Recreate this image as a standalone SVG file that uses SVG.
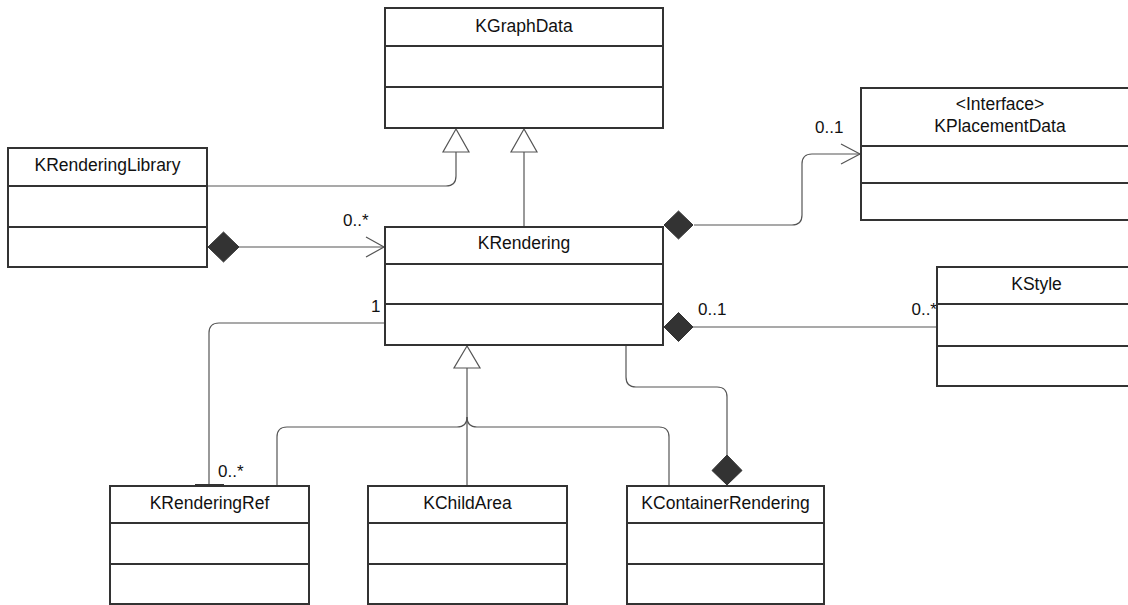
<svg xmlns="http://www.w3.org/2000/svg" width="1128" height="605" viewBox="0 0 1128 605">
<style>
.box{fill:#fff;stroke:#333;stroke-width:2}
.sep{stroke:#333;stroke-width:2}
.t{font-family:"Liberation Sans",Arial,sans-serif;font-size:17.5px;fill:#111;text-anchor:middle}
.lbl{font-family:"Liberation Sans",Arial,sans-serif;font-size:17px;fill:#111}
.c{fill:none;stroke:#555;stroke-width:1.2}
.dia{fill:#333;stroke:#333;stroke-width:1}
.tri{fill:#fff;stroke:#555;stroke-width:1.2}
</style>
<rect width="1128" height="605" fill="#fff"/>
<g id="connectors">
  <path class="c" d="M207,186 H446 Q456,186 456,176 V152"/>
  <polygon class="tri" points="456,129 443,152 469,152"/>
  <path class="c" d="M524,227 V152"/>
  <polygon class="tri" points="524,129 511,152 537,152"/>
  <path class="c" d="M239,247 H384"/>
  <polyline class="c" points="366,237 384,247 366,257"/>
  <polygon class="dia" points="208,247 223.5,232 239,247 223.5,262"/>
  <path class="c" d="M694,225 H792 Q802,225 802,215 V164 Q802,154 812,154 H860"/>
  <polyline class="c" points="841,144 860,154 841,164"/>
  <polygon class="dia" points="664,225 678.5,211 693,225 678.5,239"/>
  <path class="c" d="M693,327 H937"/>
  <polygon class="dia" points="664,327 678.5,312.5 693,327 678.5,341.5"/>
  <path class="c" d="M385,323 H219 Q209,323 209,333 V485"/>
  <path d="M195,485 H224" stroke="#333" stroke-width="2"/>
  <polygon class="tri" points="467,346 454,368 480,368"/>
  <path class="c" d="M467,368 V486"/>
  <path class="c" d="M467,417 Q467,427 457,427 H287 Q277,427 277,437 V486"/>
  <path class="c" d="M467,417 Q467,427 477,427 H659 Q669,427 669,437 V486"/>
  <path class="c" d="M626,345 V377 Q626,387 636,387 H717 Q727,387 727,397 V455"/>
  <polygon class="dia" points="727,455 742,470.5 727,485 712,470.5"/>
  <text class="lbl" x="343" y="226">0..*</text>
  <text class="lbl" x="815" y="133">0..1</text>
  <text class="lbl" x="698" y="315">0..1</text>
  <text class="lbl" x="937" y="315" text-anchor="end">0..*</text>
  <text class="lbl" x="371" y="312">1</text>
  <text class="lbl" x="218" y="477">0..*</text>
</g>
<g id="KGraphData">
  <rect class="box" x="385" y="8" width="278" height="120"/>
  <line class="sep" x1="385" y1="46" x2="663" y2="46"/>
  <line class="sep" x1="385" y1="87" x2="663" y2="87"/>
  <text class="t" x="524" y="32">KGraphData</text>
</g>
<g id="KRenderingLibrary">
  <rect class="box" x="8" y="148" width="199" height="119"/>
  <line class="sep" x1="8" y1="186" x2="207" y2="186"/>
  <line class="sep" x1="8" y1="227" x2="207" y2="227"/>
  <text class="t" x="107.5" y="171">KRenderingLibrary</text>
</g>
<g id="KPlacementData">
  <rect class="box" x="861" y="88" width="278" height="132"/>
  <line class="sep" x1="861" y1="146" x2="1139" y2="146"/>
  <line class="sep" x1="861" y1="183" x2="1139" y2="183"/>
  <text class="t" x="1000" y="110">&lt;Interface&gt;</text>
  <text class="t" x="1000" y="132">KPlacementData</text>
</g>
<g id="KRendering">
  <rect class="box" x="385" y="227" width="278" height="118"/>
  <line class="sep" x1="385" y1="264" x2="663" y2="264"/>
  <line class="sep" x1="385" y1="304" x2="663" y2="304"/>
  <text class="t" x="524" y="249">KRendering</text>
</g>
<g id="KStyle">
  <rect class="box" x="937" y="267" width="199" height="119"/>
  <line class="sep" x1="937" y1="304" x2="1136" y2="304"/>
  <line class="sep" x1="937" y1="346" x2="1136" y2="346"/>
  <text class="t" x="1036.5" y="290">KStyle</text>
</g>
<g id="KRenderingRef">
  <rect class="box" x="110" y="486" width="199" height="118"/>
  <line class="sep" x1="110" y1="523" x2="309" y2="523"/>
  <line class="sep" x1="110" y1="564" x2="309" y2="564"/>
  <text class="t" x="209.5" y="509">KRenderingRef</text>
</g>
<g id="KChildArea">
  <rect class="box" x="368" y="486" width="199" height="118"/>
  <line class="sep" x1="368" y1="523" x2="567" y2="523"/>
  <line class="sep" x1="368" y1="564" x2="567" y2="564"/>
  <text class="t" x="467.5" y="509">KChildArea</text>
</g>
<g id="KContainerRendering">
  <rect class="box" x="627" y="486" width="197" height="118"/>
  <line class="sep" x1="627" y1="523" x2="824" y2="523"/>
  <line class="sep" x1="627" y1="564" x2="824" y2="564"/>
  <text class="t" x="725.5" y="509">KContainerRendering</text>
</g>
</svg>
